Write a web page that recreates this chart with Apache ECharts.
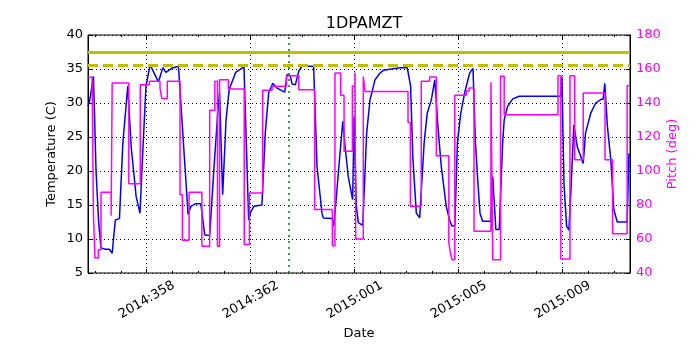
<!DOCTYPE html>
<html>
<head>
<meta charset="utf-8">
<script src="https://cdn.jsdelivr.net/npm/echarts@6/dist/echarts.min.js"></script>
<style>
html, body { margin: 0; padding: 0; background: #fff; }
#main { width: 700px; height: 350px; }
</style>
</head>
<body>
<div id="main"></div>
<script>
// day numbers run on from 2014 (366 = 2015:001)
var dayMin = 355.74
var dayMax = 376.59
var majorDays = [358, 362, 366, 370, 374]
var minorDays = [356, 357, 358, 359, 360, 361, 362, 363, 364, 365, 366, 367, 368, 369, 370, 371, 372, 373, 374, 375, 376]

var planLimit = 37.5
var cautionLimit = 35.5
var nowDay = 363.45

// 1DPAMZT temperature (C)
var tempPoints = [
  [355.74, 29.6], [355.79, 30.0], [355.95, 33.9], [356.05, 20.0], [356.15, 12.4], [356.24, 8.7],
  [356.40, 8.5], [356.56, 8.5], [356.67, 7.9], [356.79, 12.8], [356.95, 13.0], [357.08, 24.1],
  [357.27, 32.5], [357.40, 23.6], [357.59, 16.3], [357.74, 13.8], [357.85, 23.1], [357.97, 32.5],
  [358.13, 35.6], [358.45, 33.1], [358.62, 35.2], [358.74, 34.5], [358.96, 35.1], [359.22, 35.4],
  [359.28, 35.4], [359.59, 13.6], [359.70, 14.8], [359.88, 15.2], [360.08, 15.2], [360.23, 10.6],
  [360.42, 10.5], [360.59, 20.7], [360.74, 29.0], [360.80, 31.5], [360.92, 16.5], [361.05, 27.5],
  [361.17, 32.0], [361.42, 34.5], [361.74, 35.3], [361.77, 35.3], [361.92, 12.8], [362.00, 14.0],
  [362.12, 14.8], [362.43, 15.0], [362.56, 25.6], [362.69, 31.5], [362.85, 32.9], [363.01, 32.2],
  [363.31, 31.6], [363.40, 34.2], [363.52, 34.0], [363.59, 32.8], [363.72, 32.7], [363.85, 34.7],
  [363.97, 35.4], [364.42, 35.4], [364.55, 20.7], [364.74, 13.8], [364.79, 13.1], [365.14, 13.0],
  [365.20, 11.9], [365.37, 19.7], [365.54, 27.3], [365.63, 23.6], [365.75, 19.2], [365.92, 15.8],
  [365.98, 28.0], [366.06, 15.0], [366.14, 12.4], [366.31, 12.0], [366.46, 25.6], [366.59, 30.5],
  [366.78, 33.4], [366.95, 34.3], [367.10, 34.8], [367.74, 35.2], [368.02, 35.2], [368.15, 32.5],
  [368.24, 21.7], [368.37, 13.8], [368.50, 13.1], [368.56, 13.1], [368.67, 24.1], [368.79, 28.5],
  [368.95, 30.5], [369.02, 30.7], [369.08, 33.4], [369.20, 26.6], [369.33, 20.7], [369.52, 14.8],
  [369.65, 12.8], [369.74, 11.9], [369.85, 11.9], [369.95, 24.1], [370.08, 28.5], [370.23, 31.5],
  [370.42, 34.4], [370.55, 35.1], [370.64, 24.5], [370.74, 18.2], [370.82, 13.8], [370.92, 12.6],
  [371.24, 12.6], [371.31, 19.2], [371.43, 11.4], [371.56, 11.4], [371.69, 24.1], [371.75, 27.5],
  [371.88, 29.5], [372.08, 30.6], [372.33, 31.0], [373.74, 31.0], [373.92, 31.0], [373.97, 33.9],
  [374.05, 18.2], [374.15, 11.9], [374.24, 11.3], [374.33, 18.2], [374.43, 26.8], [374.56, 23.6],
  [374.79, 21.1], [374.88, 25.6], [375.08, 28.5], [375.27, 30.0], [375.46, 30.5], [375.56, 30.6],
  [375.62, 32.9], [375.72, 26.6], [375.85, 21.7], [375.97, 14.3], [376.10, 12.5], [376.48, 12.5],
  [376.55, 22.6]
]

// pitch (deg), value holds until next change
var pitchPoints = [
  [355.74, 155.1], [355.90, 152.8], [355.95, 73.7], [356.01, 48.8], [356.14, 53.7], [356.24, 87.5],
  [356.63, 73.7], [356.67, 151.8], [357.31, 92.5], [357.75, 150.8], [358.10, 152.8], [358.51, 148.6],
  [358.58, 142.7], [358.79, 152.8], [359.28, 86.0], [359.37, 59.2], [359.63, 87.5], [360.12, 55.7],
  [360.42, 135.7], [360.62, 152.8], [360.72, 55.7], [360.80, 153.7], [361.14, 148.2], [361.75, 56.7],
  [361.95, 87.1], [362.46, 147.5], [362.82, 149.8], [363.37, 156.1], [363.85, 147.8], [364.46, 77.3],
  [365.14, 56.1], [365.24, 157.6], [365.46, 144.5], [365.59, 111.6], [365.91, 150.0], [366.01, 158.0],
  [366.04, 60.0], [366.33, 155.5], [366.40, 146.7], [368.05, 128.6], [368.14, 79.2], [368.56, 152.8],
  [368.88, 155.3], [369.14, 109.0], [369.62, 57.6], [369.68, 52.0], [369.74, 47.8], [369.85, 144.5],
  [370.29, 147.0], [370.40, 148.8], [370.59, 64.5], [371.24, 152.2], [371.31, 47.8], [371.61, 155.7],
  [371.75, 133.1], [373.82, 156.1], [373.93, 48.2], [374.28, 156.1], [374.46, 106.6], [374.79, 145.9],
  [375.63, 106.6], [375.92, 63.1], [376.48, 150.2], [376.59, 150.2]
]

function doyLabel (v) {
  var y = 2014
  var d = Math.round(v)
  if (d > 365) { y = 2015; d -= 365 }
  return y + ':' + ('00' + d).slice(-3)
}

var font = 'DejaVu Sans'
var gridLine = { show: true, lineStyle: { color: '#000', width: 1, type: [1, 3] } }

function xAx (pos, ticks, len, labels, split) {
  return {
    type: 'value',
    position: pos,
    min: dayMin,
    max: dayMax,
    axisLine: { show: false },
    axisTick: { show: true, inside: true, length: len, customValues: ticks, lineStyle: { color: '#000' } },
    axisLabel: labels ? {
      show: true, customValues: majorDays, rotate: 30, margin: 27,
      align: 'center', verticalAlign: 'middle',
      color: '#000', fontSize: 13, fontFamily: font, formatter: doyLabel
    } : { show: false },
    splitLine: split ? gridLine : { show: false },
    name: labels ? 'Date' : '',
    nameLocation: 'middle',
    nameGap: 52,
    nameTextStyle: { color: '#000', fontSize: 13, fontFamily: font }
  }
}

var myChart = echarts.init(document.getElementById('main'))
myChart.setOption({
  animation: false,
  title: {
    text: '1DPAMZT',
    left: 359,
    textAlign: 'center',
    top: 11,
    textStyle: { fontSize: 16, fontWeight: 'normal', color: '#000', fontFamily: font }
  },
  grid: {
    left: 88, right: 70, top: 35, bottom: 77,
    show: true, borderColor: '#000', borderWidth: 1, backgroundColor: 'transparent'
  },
  xAxis: [
    xAx('bottom', majorDays, 4, true, true),
    xAx('bottom', minorDays, 2, false, false),
    xAx('top', majorDays, 4, false, false),
    xAx('top', minorDays, 2, false, false)
  ],
  yAxis: [
    {
      type: 'value', position: 'left', min: 5, max: 40, interval: 5,
      axisLine: { show: true, lineStyle: { color: '#000' } },
      axisTick: { show: true, inside: true, length: 4, lineStyle: { color: '#000' } },
      axisLabel: { color: '#000', fontSize: 13, fontFamily: font, margin: 5 },
      splitLine: gridLine,
      name: 'Temperature (C)',
      nameLocation: 'middle',
      nameGap: 30,
      nameMoveOverlap: false,
      nameTextStyle: { color: '#000', fontSize: 13, fontFamily: font }
    },
    {
      type: 'value', position: 'right', min: 40, max: 180, interval: 20,
      axisLine: { show: true, lineStyle: { color: '#000' } },
      axisTick: { show: true, inside: true, length: 4, lineStyle: { color: '#000' } },
      axisLabel: { color: '#ff00ff', fontSize: 13, fontFamily: font, margin: 6 },
      splitLine: { show: false },
      name: 'Pitch (deg)',
      nameLocation: 'middle',
      nameGap: 36,
      nameMoveOverlap: false,
      nameRotate: 90,
      nameTextStyle: { color: '#ff00ff', fontSize: 13, fontFamily: font }
    }
  ],
  series: [
    {
      name: 'temp',
      type: 'line',
      xAxisIndex: 0,
      yAxisIndex: 0,
      data: tempPoints,
      showSymbol: false,
      lineStyle: { color: '#0000ff', width: 1.5 },
      itemStyle: { color: '#0000ff' },
      markLine: {
        silent: true,
        symbol: 'none',
        label: { show: false },
        data: [
          { yAxis: planLimit, lineStyle: { color: '#bfbf00', width: 3, type: 'solid' } },
          { yAxis: cautionLimit, lineStyle: { color: '#bfbf00', width: 3, type: [10, 5] } },
          { xAxis: nowDay, lineStyle: { color: '#008000', width: 1.5, type: [2, 4] } }
        ]
      }
    },
    {
      name: 'pitch',
      type: 'line',
      step: 'end',
      xAxisIndex: 0,
      yAxisIndex: 1,
      data: pitchPoints,
      showSymbol: false,
      lineStyle: { color: '#ff00ff', width: 1.5 },
      itemStyle: { color: '#ff00ff' }
    }
  ]
})
</script>
</body>
</html>
